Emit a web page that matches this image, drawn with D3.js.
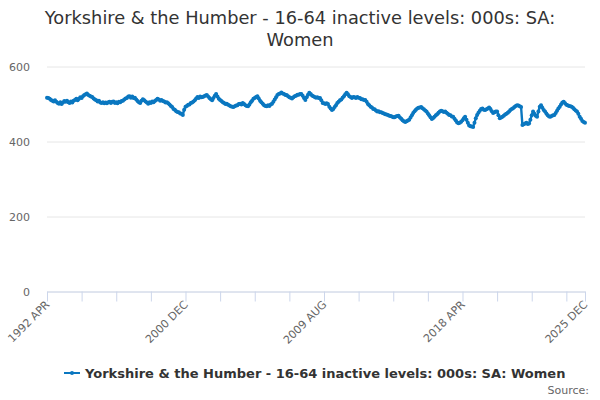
<!DOCTYPE html>
<html><head><meta charset="utf-8">
<script src="https://cdn.jsdelivr.net/npm/d3@7"></script>
<style>
body{margin:0;background:#fff;}
svg{font-family:"DejaVu Sans",Verdana,sans-serif;}
</style></head>
<body><svg id="c" width="600" height="400"></svg>
<script>
const title = ["Yorkshire & the Humber - 16-64 inactive levels: 000s: SA:", "Women"];
const seriesName = "Yorkshire & the Humber - 16-64 inactive levels: 000s: SA: Women";
const monthNames = ["JAN","FEB","MAR","APR","MAY","JUN","JUL","AUG","SEP","OCT","NOV","DEC"];
const startYear = 1992, startMonth = 3, endYear = 2025, endMonth = 11;
const shownLabels = ["1992 APR","2000 DEC","2009 AUG","2018 APR","2025 DEC"];
const yTicks = [0,200,400,600];
const values = [
// 1992 Apr-Dec
517,516,514,511,509,507,510,506,503,
// 1993
501,505,500,504,508,506,509,505,503,507,504,509,
// 1994
511,514,510,514,518,516,521,524,526,528,524,522,
// 1995
520,519,515,512,510,507,509,504,503,505,502,504,
// 1996
502,505,506,503,506,507,503,505,502,506,505,508,
// 1997
509,512,515,516,520,521,517,520,516,517,512,508,
// 1998
505,503,509,513,510,507,504,501,505,503,507,505,
// 1999
508,511,514,512,509,511,508,507,504,505,502,499,
// 2000
495,492,487,485,481,479,478,475,474,471,485,493,
// 2001
495,498,499,503,504,507,510,515,519,516,520,518,
// 2002
519,521,523,524,520,516,513,510,516,522,527,520,
// 2003
514,511,508,505,503,500,501,498,496,494,493,492,
// 2004
494,496,497,500,501,499,503,500,497,495,494,499,
// 2005
505,509,514,516,519,521,515,509,505,501,497,495,
// 2006
494,497,495,499,501,506,512,518,524,527,528,531,
// 2007
528,527,524,524,521,518,517,515,518,521,522,525,
// 2008
525,527,527,522,516,511,518,525,530,527,523,521,
// 2009
519,517,518,516,516,510,503,502,500,502,500,493,
// 2010
488,484,487,492,497,503,506,510,512,517,521,526,
// 2011
530,526,521,519,516,519,518,516,519,517,516,513,
// 2012
513,511,511,506,500,497,493,491,487,486,483,480,
// 2013
481,478,478,476,475,473,472,471,469,468,467,465,
// 2014
465,467,468,469,464,461,457,454,452,454,456,458,
// 2015
464,470,476,481,485,488,490,491,492,489,486,483,
// 2016
480,475,470,465,460,463,466,470,473,477,480,482,
// 2017
481,479,480,477,474,471,470,467,466,461,456,451,
// 2018
449,450,453,457,462,466,458,450,443,441,440,439,
// 2019
450,462,471,477,482,487,488,485,484,486,488,491,
// 2020
487,481,476,478,480,480,470,462,464,466,469,472,
// 2021
474,477,480,484,487,489,492,495,497,496,494,492,
// 2022
444,446,448,450,447,448,458,470,480,474,469,466,
// 2023
480,493,497,490,484,480,475,470,467,466,468,470,
// 2024
471,476,482,488,493,499,504,506,502,498,497,495,
// 2025
494,493,490,486,483,480,474,466,461,455,452,450
];

const categories = [];
for (let yr = startYear; yr <= endYear; yr++) {
  for (let m = (yr === startYear ? startMonth : 0); m <= (yr === endYear ? endMonth : 11); m++) {
    categories.push(yr + " " + monthNames[m]);
  }
}
const data = categories.map((c, i) => ({c, v: values[i]}));

const svg = d3.select("#c");
const pLeft = 47, pRight = 585, pTop = 66.5, pBottom = 291.5;
const x = d3.scalePoint().domain(categories).range([pLeft, pRight]);
const y = d3.scaleLinear().domain([0, 600]).range([pBottom, pTop]);

// title
svg.append("g").selectAll("text").data(title).join("text")
  .attr("x", 300).attr("y", (d, i) => 24 + i * 22)
  .attr("text-anchor", "middle").attr("fill", "#333").attr("font-size", 17.8)
  .text(d => d);

// grid + y axis
const yAxis = svg.append("g").attr("transform", `translate(${pLeft},0)`)
  .call(d3.axisLeft(y).tickValues(yTicks).tickSize(-(pRight - pLeft)).tickPadding(17));
yAxis.select(".domain").remove();
yAxis.selectAll(".tick line").attr("stroke", "#e6e6e6");
yAxis.selectAll(".tick text").attr("fill", "#666").attr("font-size", 11)
  .attr("font-family", "DejaVu Sans, sans-serif");

// x axis
const tickCats = categories.filter((c, i) => i % 26 === 0);
if (tickCats[tickCats.length - 1] !== categories[categories.length - 1]) tickCats.push(categories[categories.length - 1]);
const xAxis = svg.append("g").attr("transform", `translate(0,${pBottom})`)
  .call(d3.axisBottom(x).tickValues(tickCats).tickSize(10).tickSizeOuter(0)
    .tickFormat(d => shownLabels.includes(d) ? d : ""));
xAxis.select(".domain").attr("stroke", "#ccd6eb");
xAxis.selectAll(".tick line").attr("stroke", "#ccd6eb");
xAxis.selectAll(".tick text").attr("fill", "#666").attr("font-size", 11)
  .attr("font-family", "DejaVu Sans, sans-serif")
  .attr("text-anchor", "end")
  .attr("x", 0).attr("y", 0).attr("dy", "0.35em")
  .attr("transform", "translate(0,11) rotate(-45)");

// line
const color = "#0a77c0";
svg.append("path").datum(data)
  .attr("fill", "none").attr("stroke", color).attr("stroke-width", 2.4)
  .attr("stroke-linejoin", "round")
  .attr("d", d3.line().x(d => x(d.c)).y(d => y(d.v)));
svg.append("g").selectAll("circle").data(data).join("circle")
  .attr("cx", d => x(d.c)).attr("cy", d => y(d.v)).attr("r", 2).attr("fill", color);

// legend
const lg = svg.append("g");
lg.append("line").attr("x1", 64).attr("x2", 80).attr("y1", 373).attr("y2", 373)
  .attr("stroke", color).attr("stroke-width", 2);
lg.append("circle").attr("cx", 72).attr("cy", 373).attr("r", 2).attr("fill", color);
lg.append("text").attr("x", 85).attr("y", 378).attr("font-size", 13).attr("font-weight", "bold")
  .attr("fill", "#333").text(seriesName);

svg.append("text").attr("x", 589).attr("y", 394).attr("text-anchor", "end")
  .attr("font-size", 11).attr("fill", "#666").text("Source:");
</script></body></html>
